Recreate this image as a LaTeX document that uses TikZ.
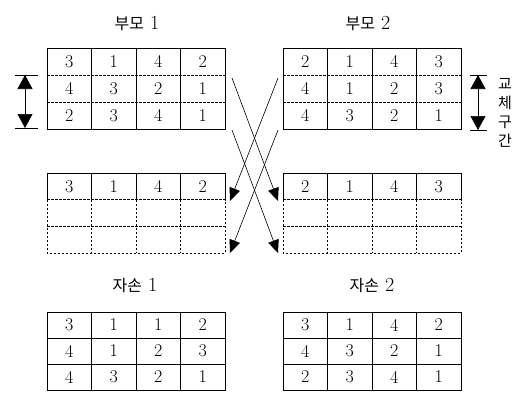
\documentclass[tikz,border=0pt]{standalone}
\usepackage{fontspec}
\newfontfamily\kr{Noto Sans CJK KR}
\usetikzlibrary{arrows.meta}

\begin{document}
\begin{tikzpicture}[
    x=1pt, y=-1pt,
    every node/.style={inner sep=0pt},
    cell/.style={font=\fontsize{18}{18}\selectfont},
    title/.style={font=\fontsize{20}{20}\selectfont},
    grid/.style={line width=0.8pt},
    sep/.style={line width=0.6pt, dash pattern=on 2.5pt off 1.5pt},
    xarr/.style={-{Triangle[length=13pt, width=11pt]}, line width=0.6pt},
    spanarr/.style={{Triangle[length=14pt, width=15pt]}-{Triangle[length=14pt, width=15pt]}, line width=0.7pt},
]
    \useasboundingbox (0,0) rectangle (523,392);

    % titles
    \node[title] (t1) at (137,24) {{\kr\fontsize{16}{16}\selectfont 부모} 1};
    \node[title] (t2) at (368,24) {{\kr\fontsize{16}{16}\selectfont 부모} 2};
    \node[title] (c1) at (135,286) {{\kr\fontsize{16}{16}\selectfont 자손} 1};
    \node[title] (c2) at (372,286) {{\kr\fontsize{16}{16}\selectfont 자손} 2};

    % parent tables
    \foreach \x in {47,283} {
        \draw[grid] (\x,48) rectangle (\x+178,129);
        \foreach \i in {1,2,3} \draw[grid] (\x+\i*44.5,48) -- (\x+\i*44.5,129);
        \foreach \j in {1,2} \draw[sep] (\x,48+\j*27) -- (\x+178,48+\j*27);
    }
    \foreach \r/\row in {1/{3,1,4,2},2/{4,3,2,1},3/{2,3,4,1}}
        \foreach \v [count=\c] in \row
            \node[cell] (p1-\r-\c) at (47+\c*44.5-22.25,48+\r*27-13.5) {\v};
    \foreach \r/\row in {1/{2,1,4,3},2/{4,1,2,3},3/{4,3,2,1}}
        \foreach \v [count=\c] in \row
            \node[cell] (p2-\r-\c) at (283+\c*44.5-22.25,48+\r*27-13.5) {\v};

    % half-built offspring
    \foreach \x in {47,283} {
        \draw[grid] (\x,199.7) -- (\x,173) -- (\x+178,173) -- (\x+178,199.7);
        \foreach \i in {1,2,3} {
            \draw[grid] (\x+\i*44.5,173) -- (\x+\i*44.5,199.7);
            \draw[sep] (\x+\i*44.5,199.7) -- (\x+\i*44.5,253);
        }
        \draw[sep] (\x,199.7) -- (\x,253) -- (\x+178,253) -- (\x+178,199.7);
        \foreach \j in {1,2} \draw[sep] (\x,173+\j*26.7) -- (\x+178,173+\j*26.7);
    }
    \foreach \v [count=\c] in {3,1,4,2}
        \node[cell] (h1-\c) at (47+\c*44.5-22.25,186.3) {\v};
    \foreach \v [count=\c] in {2,1,4,3}
        \node[cell] (h2-\c) at (283+\c*44.5-22.25,186.3) {\v};

    % offspring tables
    \foreach \x in {47,283} {
        \draw[grid] (\x,312) rectangle (\x+178,390);
        \foreach \i in {1,2,3} \draw[grid] (\x+\i*44.5,312) -- (\x+\i*44.5,390);
        \foreach \j in {1,2} \draw[grid] (\x,312+\j*26) -- (\x+178,312+\j*26);
    }
    \foreach \r/\row in {1/{3,1,1,2},2/{4,1,2,3},3/{4,3,2,1}}
        \foreach \v [count=\c] in \row
            \node[cell] (o1-\r-\c) at (47+\c*44.5-22.25,312+\r*26-13) {\v};
    \foreach \r/\row in {1/{3,1,4,2},2/{4,3,2,1},3/{2,3,4,1}}
        \foreach \v [count=\c] in \row
            \node[cell] (o2-\r-\c) at (283+\c*44.5-22.25,312+\r*26-13) {\v};

    % crossover span
    \coordinate (lt) at (25,75);
    \coordinate (lb) at (25,128);
    \coordinate (rt) at (478,75);
    \coordinate (rb) at (478,130);
    \draw[line width=0.7pt] (15,75) -- (38,75) (15,128) -- (38,128);
    \draw[line width=0.7pt] (470,75) -- (487,75) (470,130) -- (487,130);
    \draw[spanarr] (lt) -- (lb);
    \draw[spanarr] (rt) -- (rb);
    \node[font=\kr\fontsize{15}{19}\selectfont, align=center] (xr) at (505,113) {교\\체\\구\\간};

    % exchange lines
    \coordinate (s1) at (232,78);
    \coordinate (s2) at (232,130);
    \coordinate (s3) at (278,78);
    \coordinate (s4) at (278,130);
    \coordinate (e1) at (278,201);
    \coordinate (e2) at (278,253);
    \coordinate (e3) at (230,201);
    \coordinate (e4) at (230,253);
    \draw[xarr] (s1) -- (e1);
    \draw[xarr] (s2) -- (e2);
    \draw[xarr] (s3) -- (e3);
    \draw[xarr] (s4) -- (e4);
\end{tikzpicture}
\end{document}
